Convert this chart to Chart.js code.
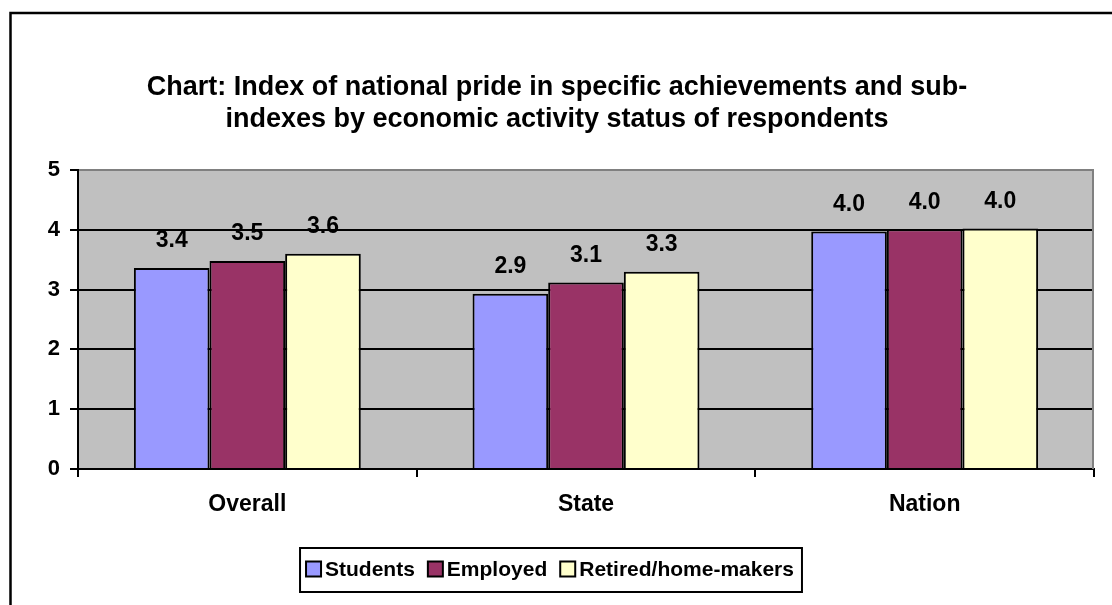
<!DOCTYPE html>
<html>
<head>
<meta charset="utf-8">
<title>Index of national pride</title>
<script src="https://cdn.jsdelivr.net/npm/chart.js@4/dist/chart.umd.min.js"></script>
<style>
  html, body { margin: 0; padding: 0; background: #fff; }
  #wrap { width: 1112px; height: 605px; }
</style>
</head>
<body>
<div id="wrap"><canvas id="chart" width="1112" height="605"></canvas></div>
<script>
// valores
const categorias = ['Overall', 'State', 'Nation'];
const estudantes = [3.36, 2.93, 3.97];
const empregados = [3.48, 3.12, 4.01];
const aposentados = [3.60, 3.30, 4.02];
const ticksY = [0, 1, 2, 3, 4, 5];
const titulo = ['Chart: Index of national pride in specific achievements and sub-', 'indexes by economic activity status of respondents'];

const FONTE = '"Liberation Sans", Arial, sans-serif';

// fundo cinza da área do gráfico + rótulos (desenhados antes das linhas de grade)
const fundoPlugin = {
    id: 'fundo',
    beforeDraw(chart) {
        const { ctx, chartArea: a } = chart;
        ctx.save();
        ctx.fillStyle = '#C0C0C0';
        ctx.fillRect(a.left, a.top, a.right - a.left, a.bottom - a.top);
        ctx.fillStyle = '#000';
        ctx.font = 'bold 23px ' + FONTE;
        ctx.textAlign = 'center';
        ctx.textBaseline = 'middle';
        chart.data.datasets.forEach((ds, i) => {
            chart.getDatasetMeta(i).data.forEach((bar, j) => {
                ctx.fillText(ds.data[j].toFixed(1), bar.x, bar.y - 27);
            });
        });
        ctx.restore();
    },
    afterDraw(chart) {
        const { ctx, chartArea: a } = chart;
        ctx.save();
        // borda direita da área
        ctx.strokeStyle = '#808080';
        ctx.lineWidth = 2;
        ctx.beginPath();
        ctx.moveTo(a.right - 1, a.top);
        ctx.lineTo(a.right - 1, a.bottom);
        ctx.stroke();
        // moldura externa
        ctx.strokeStyle = '#000';
        ctx.lineWidth = 2.5;
        ctx.strokeRect(10.5, 13, 1300, 800);

        // legenda manual com caixa
        ctx.font = 'bold 21px ' + FONTE;
        ctx.textBaseline = 'middle';
        ctx.textAlign = 'left';
        const caixa = 15, gap = 4, entre = 13;
        const itens = chart.data.datasets.map(ds => ({ ds, w: ctx.measureText(ds.label).width }));
        const total = itens.reduce((s, it) => s + caixa + gap + it.w, 0) + entre * (itens.length - 1);
        const cx = 550, cy = 569;
        let x = cx - total / 2;
        ctx.lineWidth = 2;
        ctx.strokeStyle = '#000';
        ctx.strokeRect(x - 6, 548, total + 14, 44);
        itens.forEach(it => {
            ctx.fillStyle = it.ds.backgroundColor;
            ctx.fillRect(x, cy - caixa / 2, caixa, caixa);
            ctx.lineWidth = 2;
            ctx.strokeRect(x, cy - caixa / 2, caixa, caixa);
            ctx.fillStyle = '#000';
            ctx.fillText(it.ds.label, x + caixa + gap, cy + 1);
            x += caixa + gap + it.w + entre;
        });
        ctx.restore();
    }
};

new Chart(document.getElementById('chart'), {
    type: 'bar',
    data: {
        labels: categorias,
        datasets: [
            { label: 'Students', data: estudantes, backgroundColor: '#9999FF', borderColor: '#000', borderWidth: 2 },
            { label: 'Employed', data: empregados, backgroundColor: '#993366', borderColor: '#000', borderWidth: 2 },
            { label: 'Retired/home-makers', data: aposentados, backgroundColor: '#FFFFCC', borderColor: '#000', borderWidth: 2 }
        ]
    },
    options: {
        responsive: false,
        animation: false,
        events: [],
        layout: { padding: { left: 20, right: 18, top: 72, bottom: 76 } },
        datasets: { bar: { categoryPercentage: 0.67, barPercentage: 1.0 } },
        plugins: {
            legend: { display: false },
            tooltip: { enabled: false },
            title: {
                display: true,
                text: titulo,
                color: '#000',
                font: { family: FONTE, size: 27, weight: 'bold', lineHeight: 32 / 27 },
                padding: { top: 0, bottom: 34 }
            }
        },
        scales: {
            x: {
                grid: { display: true, drawOnChartArea: false, drawTicks: true, tickLength: 8, color: '#000', lineWidth: 2 },
                border: { color: '#000', width: 2 },
                ticks: { color: '#000', padding: 14, font: { family: FONTE, size: 23, weight: 'bold' } },
                afterFit(scale) { scale.height = 60; }
            },
            y: {
                min: 0,
                max: 5,
                afterBuildTicks(scale) { scale.ticks = ticksY.map(v => ({ value: v })); },
                grid: {
                    color: ctx => ctx.tick && ctx.tick.value === 5 ? '#808080' : '#000',
                    tickColor: '#000',
                    lineWidth: 2,
                    tickLength: 8
                },
                border: { color: '#000', width: 2 },
                ticks: { color: '#000', padding: 10, font: { family: FONTE, size: 22, weight: 'bold' } },
                afterFit(scale) { scale.width = 58; }
            }
        }
    },
    plugins: [fundoPlugin]
});
</script>
</body>
</html>
